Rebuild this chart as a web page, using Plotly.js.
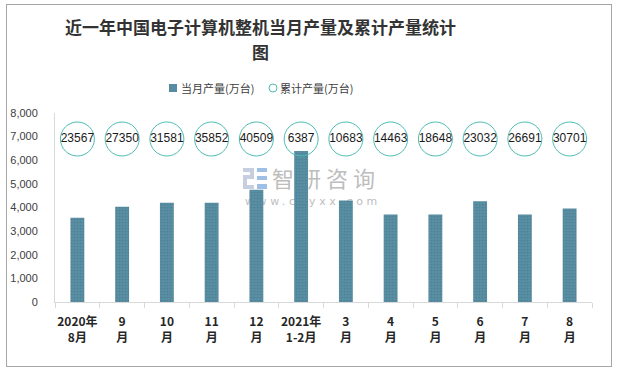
<!DOCTYPE html>
<html><head><meta charset="utf-8">
<script src="https://cdn.plot.ly/plotly-3.0.1.min.js"></script>
<style>
html,body{margin:0;padding:0;background:#fff;}
#wrap{position:relative;width:621px;height:371px;}
#chart{width:621px;height:371px;}
#frame{position:absolute;left:6px;top:4px;width:604px;height:361px;border:1px solid #a6a6a6;pointer-events:none;}
</style></head>
<body><div id="wrap"><div id="chart"></div><div id="frame"></div></div>
<script>
const categories = ['2020年<br>8月','9<br>月','10<br>月','11<br>月','12<br>月','2021年<br>1-2月','3<br>月','4<br>月','5<br>月','6<br>月','7<br>月','8<br>月'];
const monthly = [3570, 4030, 4200, 4200, 4750, 6387, 4300, 3700, 3700, 4260, 3700, 3960];
const cumulative = [23567, 27350, 31581, 35852, 40509, 6387, 10683, 14463, 18648, 23032, 26691, 30701];
const yTickVals = [0,1000,2000,3000,4000,5000,6000,7000,8000];
const seriesNames = ['当月产量(万台)', '累计产量(万台)'];
const LABEL_Y = 6900;

const font = '"Liberation Sans", Arial, "Noto Sans CJK SC", sans-serif';
const cjk = '"Noto Sans CJK SC", sans-serif';
const barColor = '#578b9f';
const circColor = '#4dbcb3';

// plot area in pixels: x 55..592, y 113..302
const L = 55, R = 592, T = 113, B = 302;
const px = v => (v - L) / (R - L);
const py = v => (B - v) / (B - T);

const wm = `<svg xmlns="http://www.w3.org/2000/svg" width="140" height="42">
<rect x="0" y="1" width="11" height="4" fill="#c5cfe0"/><rect x="7" y="1" width="4" height="11" fill="#c5cfe0"/>
<rect x="0" y="8" width="11" height="4" fill="#c5cfe0"/><rect x="0" y="8" width="4" height="14" fill="#c5cfe0"/>
<rect x="0" y="18" width="11" height="4" fill="#c5cfe0"/>
<rect x="14" y="1" width="10" height="4" fill="#9fc0e6"/><rect x="14" y="9" width="10" height="4" fill="#9fc0e6"/>
<rect x="14" y="17" width="10" height="5" fill="#9fc0e6"/>
<text x="29" y="20" font-family="Noto Sans CJK SC" font-size="22" fill="#bdbdbd" letter-spacing="5">智研咨询</text>
<text x="2" y="38" font-family="DejaVu Sans" font-size="11" fill="#bdbdbd" letter-spacing="3.6">www.chyxx.com</text>
</svg>`;

const traces = [
  {type:'bar', name:seriesNames[0], x:categories, y:monthly, width:0.31,
   marker:{color:barColor, line:{width:0}, pattern:{shape:'.', fgcolor:'#4c8195', bgcolor:'#598ea3', size:3, solidity:0.25}},
   hoverinfo:'y', showlegend:false},
  {type:'scatter', mode:'markers+text', name:seriesNames[1], x:categories, y:cumulative.map(()=>LABEL_Y),
   text:cumulative.map(String), textposition:'middle center', textfont:{family:font, size:12, color:'#1a1a1a'},
   marker:{symbol:'circle', size:34, color:'rgba(255,255,255,0)', line:{color:circColor, width:1}}, cliponaxis:false, showlegend:false}
];

const layout = {
  width:621, height:371,
  margin:{l:L, r:621-R, t:T, b:371-B, autoexpand:false},
  paper_bgcolor:'#fff', plot_bgcolor:'#fff',
  font:{family:font, size:12, color:'#404040'},
  showlegend:false,
  xaxis:{type:'category', range:[-0.5, categories.length-0.5], autorange:false, showgrid:false, showline:true, linecolor:'#d9d9d9', linewidth:1,
         ticks:'outside', ticklen:5, tickcolor:'#d9d9d9', tickson:'boundaries', tickangle:0, automargin:false, ticklabelstandoff:9,
         tickfont:{family:cjk, size:12, color:'#262626', weight:'bold'}, fixedrange:true},
  yaxis:{range:[0,8000], autorange:false, tickvals:yTickVals, tickformat:',d', showgrid:false, zeroline:false, showline:true, linecolor:'#d9d9d9',
         ticks:'', tickfont:{family:font, size:11, color:'#404040'}, ticklabelstandoff:14, automargin:false, fixedrange:true},
  bargap:0.69,
  annotations:[
    {text:'<b>近一年中国电子计算机整机当月产量及累计产量统计</b>', xref:'paper', yref:'paper', x:px(260), y:py(27), xanchor:'center', yanchor:'middle', showarrow:false,
     font:{family:cjk, size:17, color:'#333333'}},
    {text:'<b>图</b>', xref:'paper', yref:'paper', x:px(260), y:py(52), xanchor:'center', yanchor:'middle', showarrow:false,
     font:{family:cjk, size:17, color:'#333333'}},
    {text:seriesNames[0], xref:'paper', yref:'paper', x:px(179), y:py(88), xanchor:'left', yanchor:'middle', showarrow:false,
     font:{family:cjk, size:11, color:'#404040'}},
    {text:seriesNames[1], xref:'paper', yref:'paper', x:px(278), y:py(88), xanchor:'left', yanchor:'middle', showarrow:false,
     font:{family:cjk, size:11, color:'#404040'}}
  ],
  shapes:[
    {type:'rect', xref:'paper', yref:'paper', x0:px(169), x1:px(177), y0:py(92), y1:py(84), fillcolor:barColor, line:{width:0}},
    {type:'circle', xref:'paper', yref:'paper', x0:px(269), x1:px(277), y0:py(92), y1:py(84), fillcolor:'rgba(0,0,0,0)', line:{color:circColor, width:1}}
  ],
  images:[{source:'data:image/svg+xml;charset=utf-8,'+encodeURIComponent(wm), xref:'paper', yref:'paper',
           x:px(243), y:py(167), sizex:140/(R-L), sizey:42/(B-T), xanchor:'left', yanchor:'top', layer:'below', sizing:'stretch'}]
};
Plotly.newPlot('chart', traces, layout, {displayModeBar:false, staticPlot:true});
</script></body></html>
